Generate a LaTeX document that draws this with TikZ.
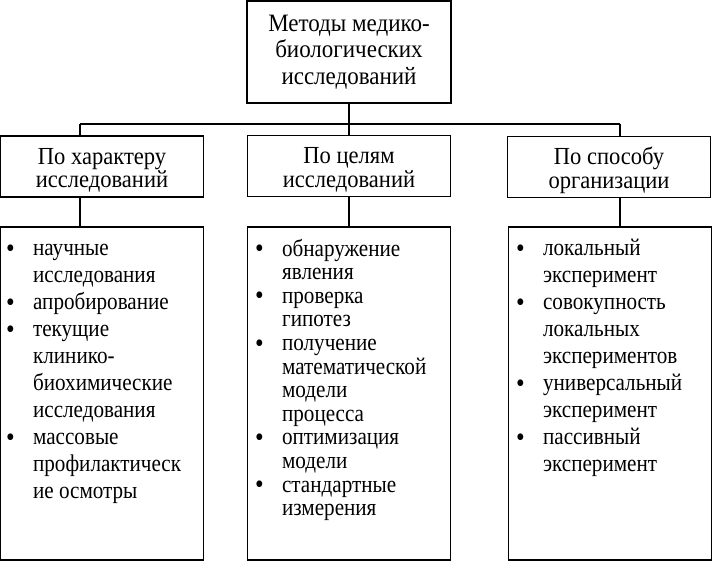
\documentclass[tikz,border=0pt]{standalone}
\usepackage{fontspec}
\setmainfont{Liberation Serif}
\newfontfamily\listfont[FakeStretch=0.88]{Liberation Serif}
\newfontfamily\headfont[FakeStretch=0.92]{Liberation Serif}
\usetikzlibrary{positioning}
\tikzstyle{head}=[
    rectangle,
    draw,
    line width=1.2pt,
    minimum width=204pt,
    minimum height=102pt,
    align=center,
    font=\headfont\fontsize{25}{26.5}\selectfont
]
\tikzstyle{group}=[
    rectangle,
    draw,
    line width=1.2pt,
    minimum width=203pt,
    minimum height=61pt,
    align=center,
    font=\headfont\fontsize{24.5}{23.5}\selectfont
]
\tikzstyle{listbox}=[rectangle,draw,line width=1.2pt,minimum width=203pt,minimum height=333pt]
\tikzstyle{items}=[inner sep=0pt,align=left,font=\listfont\fontsize{24}{27}\selectfont]
\tikzstyle{denseitems}=[items,font=\listfont\fontsize{24}{23.6}\selectfont]
\tikzstyle{link}=[line width=1.2pt]
\newcommand{\blt}{\strut\makebox[27pt][l]{\smash{\raisebox{-1.5pt}{\fontsize{28}{27}\selectfont\textbullet}}}}
\newcommand{\bind}{\strut\hspace*{27pt}}
\newcommand{\lowr}{\rule{0pt}{24pt}}

\begin{document}
\begin{tikzpicture}[x=1pt,y=-1pt]
\useasboundingbox (0,0) rectangle (715,567);
\node[head] (methods) at (349,52) {Методы медико-\\биологических\\исследований};
\node[group] (nature) at (102,166.5) {\lowr По характеру\\исследований};
\node[group] (goals) at (349,166) {\lowr По целям\\исследований};
\node[group] (organ) at (609,167) {\lowr По способу\\организации};
\node[listbox] (natlist) at (102,393.5) {};
\node[listbox] (goallist) at (349,393.5) {};
\node[listbox] (orglist) at (610,393.5) {};
\coordinate (barL) at (80,124);
\coordinate (barR) at (620,124);
\draw[link] (methods.south) -- (methods.south |- barL);
\draw[link] (barL) -- (barR);
\draw[link] (barL) -- (barL |- nature.north);
\draw[link] (goals.north |- barL) -- (goals.north);
\draw[link] (barR) -- (barR |- organ.north);
\draw[link] (barL |- nature.south) -- (barL |- natlist.north);
\draw[link] (goals.south) -- (goallist.north);
\draw[link] (barR |- organ.south) -- (barR |- orglist.north);
\node[items,below right=10pt and 6pt of natlist.north west] (natitems) {%
\blt научные\\ \bind исследования\\ \blt апробирование\\ \blt текущие\\
\bind клинико-\\ \bind биохимические\\ \bind исследования\\ \blt массовые\\
\bind профилактическ\\ \bind ие осмотры};
\node[denseitems,below right=12.4pt and 8pt of goallist.north west] (goalitems) {%
\blt обнаружение\\ \bind явления\\ \blt проверка\\ \bind гипотез\\
\blt получение\\ \bind математической\\ \bind модели\\ \bind процесса\\
\blt оптимизация\\ \bind модели\\ \blt стандартные\\ \bind измерения};
\node[items,below right=10pt and 8pt of orglist.north west] (orgitems) {%
\blt локальный\\ \bind эксперимент\\ \blt совокупность\\ \bind локальных\\
\bind экспериментов\\ \blt универсальный\\ \bind эксперимент\\
\blt пассивный\\ \bind эксперимент};
\end{tikzpicture}
\end{document}
